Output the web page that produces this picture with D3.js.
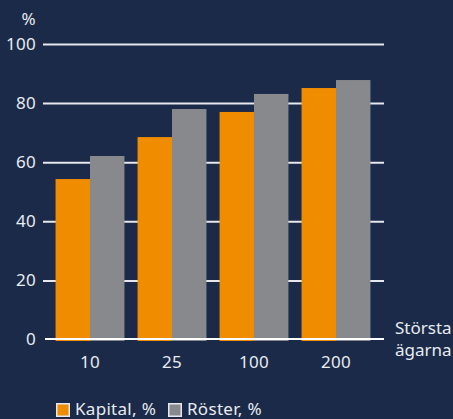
<!DOCTYPE html>
<html>
<head>
<meta charset="utf-8">
<script src="https://cdn.jsdelivr.net/npm/d3@7"></script>
<style>
    html, body { margin: 0; padding: 0; background: #1a2a48; }
    svg { display: block; font-family: "Noto Sans", "Open Sans", sans-serif; }
    svg text { font-size: 17px; letter-spacing: 0.3px; }
</style>
</head>
<body>
<div id="chart"></div>
<script>
// Ägarkoncentration: största ägarnas andel av kapital och röster

const categories = ['10', '25', '100', '200'];
const seriesNames = ['Kapital, %', 'Röster, %'];
const kapital = [54.3, 68.5, 77, 85.1];
const roster = [62.1, 78, 83.1, 87.8];
const yTicks = [0, 20, 40, 60, 80, 100];

const W = 453, H = 419;
const colors = ['#f08c00', '#88898d'];
const textColor = '#e9ebf0';

const svg = d3.select('#chart')
    .append('svg')
    .attr('width', W)
    .attr('height', H);

svg.append('rect')
    .attr('width', W)
    .attr('height', H)
    .attr('fill', '#1a2a48');

// Scales
const xScale = d3.scaleBand()
    .domain(categories)
    .range([49, 377])
    .paddingInner(0.16)
    .paddingOuter(0.08);

const xInner = d3.scaleBand()
    .domain(seriesNames)
    .range([0, xScale.bandwidth()]);

const yScale = d3.scaleLinear()
    .domain([0, 100])
    .range([339.5, 44]);

// Grid lines
const yGrid = d3.axisLeft(yScale)
    .tickValues(yTicks.filter(d => d > 0))
    .tickSize(-(384 - 43))
    .tickFormat('');

svg.append('g')
    .attr('transform', 'translate(43,0)')
    .call(yGrid)
    .call(g => g.select('.domain').remove())
    .call(g => g.selectAll('line')
        .attr('stroke', '#e6e8ee')
        .attr('stroke-width', 2));

// Y tick labels
svg.append('g')
    .selectAll('text')
    .data(yTicks)
    .enter()
    .append('text')
    .attr('x', 36)
    .attr('y', d => yScale(d))
    .attr('dy', '0.35em')
    .attr('text-anchor', 'end')
    .attr('fill', textColor)
    .text(d => d);

svg.append('text')
    .attr('x', 36)
    .attr('y', 19.5)
    .attr('dy', '0.35em')
    .attr('text-anchor', 'end')
    .attr('fill', textColor)
    .text('%');

// Bars
const rows = categories.map((c, i) => ({ cat: c, values: [kapital[i], roster[i]] }));

const groups = svg.selectAll('.group')
    .data(rows)
    .enter()
    .append('g')
    .attr('class', 'group')
    .attr('transform', d => `translate(${xScale(d.cat)},0)`);

groups.selectAll('rect')
    .data(d => d.values.map((v, j) => ({ name: seriesNames[j], value: v, idx: j })))
    .enter()
    .append('rect')
    .attr('x', d => xInner(d.name))
    .attr('width', xInner.bandwidth())
    .attr('y', d => yScale(d.value))
    .attr('height', d => yScale(0) - yScale(d.value) + 1.5)
    .attr('fill', d => colors[d.idx]);

// Zero line
svg.append('line')
    .attr('x1', 45)
    .attr('x2', 384)
    .attr('y1', yScale(0) - 0.5)
    .attr('y2', yScale(0) - 0.5)
    .attr('stroke', '#ffffff')
    .attr('stroke-width', 2);

// X labels
svg.append('g')
    .selectAll('text')
    .data(categories)
    .enter()
    .append('text')
    .attr('x', d => xScale(d) + xScale.bandwidth() / 2)
    .attr('y', 362)
    .attr('dy', '0.35em')
    .attr('text-anchor', 'middle')
    .attr('fill', textColor)
    .text(d => d);

svg.append('text')
    .attr('x', 395)
    .attr('fill', textColor)
    .style('letter-spacing', '0px')
    .selectAll('tspan')
    .data(['Största', 'ägarna'])
    .enter()
    .append('tspan')
    .attr('x', 395)
    .attr('y', (d, i) => 334 + i * 21.5)
    .text(d => d);

// Legend
const legendX = [56, 168];
const legend = svg.selectAll('.legend')
    .data(seriesNames)
    .enter()
    .append('g')
    .attr('class', 'legend')
    .attr('transform', (d, i) => `translate(${legendX[i]},403)`);

legend.append('rect')
    .attr('x', 0.75)
    .attr('y', 0.75)
    .attr('width', 12.5)
    .attr('height', 12.5)
    .attr('fill', (d, i) => colors[i])
    .attr('stroke', '#e6e8ee')
    .attr('stroke-width', 1.5);

legend.append('text')
    .attr('x', 19)
    .attr('y', 6)
    .attr('dy', '0.35em')
    .attr('fill', textColor)
    .text(d => d);
</script>
</body>
</html>
